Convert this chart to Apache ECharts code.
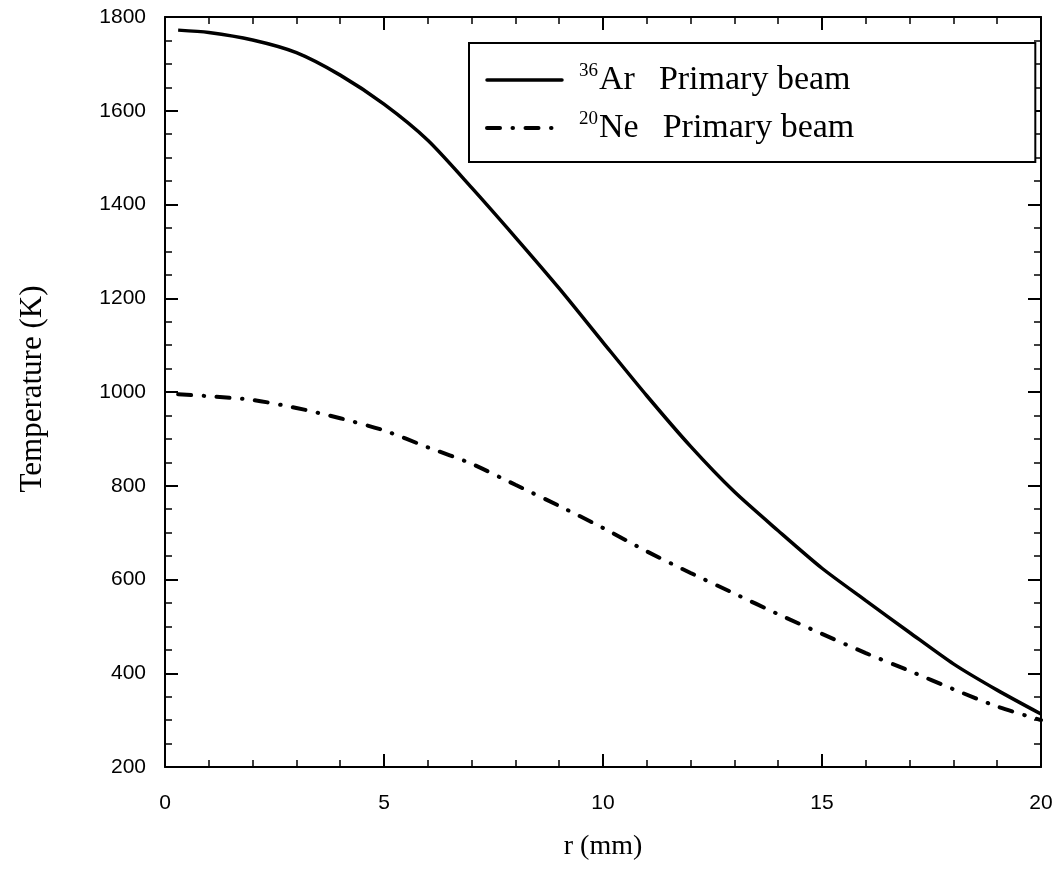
<!DOCTYPE html>
<html>
<head>
<meta charset="utf-8">
<script src="https://cdn.jsdelivr.net/npm/echarts@6/dist/echarts.min.js"></script>
<style>
html,body{margin:0;padding:0;background:#fff;}
#chart{width:1062px;height:871px;}
</style>
</head>
<body>
<div id="chart"></div>
<script>
// ---- data ----
const rValues = [0.3, 1, 2, 3, 4, 5, 6, 7, 8, 9, 10, 11, 12, 13, 14, 15, 16, 17, 18, 19, 20];
const arTemps = [1772, 1767, 1751, 1724, 1676, 1614, 1537, 1436, 1330, 1221, 1106, 992, 884, 787, 704, 624, 555, 487, 420, 364, 313];
const neTemps = [995, 991, 983, 966, 944, 918, 882, 847, 802, 757, 710, 660, 614, 570, 526, 484, 443, 405, 366, 329, 300];
const seriesNames = ['Ar', 'Ne'];
const isotopes = ['36', '20'];
const legendSuffix = 'Primary beam';
const xTicks = [0, 5, 10, 15, 20];
const yTicks = [200, 400, 600, 800, 1000, 1200, 1400, 1600, 1800];
const xTitle = 'r (mm)';
const yTitle = 'Temperature (K)';

const pairs = (xs, ys) => xs.map((x, i) => [x, ys[i]]);

const serif = '"Liberation Serif", "DejaVu Serif", serif';
const sans = '"Liberation Sans", "DejaVu Sans", sans-serif';
const black = '#000';

const baseAxis = {
  axisLine: { show: true, onZero: false, lineStyle: { color: black, width: 2 } },
  axisTick: { show: true, inside: true, length: 13, lineStyle: { color: black, width: 2 } },
  minorTick: { show: true, length: 7, lineStyle: { color: black, width: 1.5 } },
  splitLine: { show: false },
  minorSplitLine: { show: false }
};

const xCommon = Object.assign({}, baseAxis, {
  type: 'value', min: xTicks[0], max: xTicks[xTicks.length - 1], interval: 5
});
xCommon.minorTick = Object.assign({}, baseAxis.minorTick, { splitNumber: 5 });
const yCommon = Object.assign({}, baseAxis, {
  type: 'value', min: yTicks[0], max: yTicks[yTicks.length - 1], interval: 200
});
yCommon.minorTick = Object.assign({}, baseAxis.minorTick, { splitNumber: 4 });

const plain = v => String(v);

const chart = echarts.init(document.getElementById('chart'), null, { renderer: 'canvas' });
chart.setOption({
  animation: false,
  backgroundColor: '#fff',
  grid: { left: 165, right: 21, top: 17, bottom: 104, containLabel: false, outerBoundsMode: 'none' },
  xAxis: [
    Object.assign({}, xCommon, {
      position: 'bottom',
      axisLabel: { show: true, margin: 26, color: black, fontFamily: sans, fontSize: 21, formatter: plain },
      name: xTitle, nameLocation: 'middle', nameGap: 66,
      nameTextStyle: { color: black, fontFamily: serif, fontSize: 28 }
    }),
    Object.assign({}, xCommon, { position: 'top', axisLabel: { show: false } })
  ],
  yAxis: [
    Object.assign({}, yCommon, {
      position: 'left',
      axisLabel: { show: true, margin: 19, color: black, fontFamily: sans, fontSize: 21, formatter: plain },
      name: yTitle, nameLocation: 'middle', nameGap: 117, nameRotate: 90,
      nameTextStyle: { color: black, fontFamily: serif, fontSize: 31, padding: [0, 0, 0, 6] }
    }),
    Object.assign({}, yCommon, { position: 'right', axisLabel: { show: false } })
  ],
  legend: {
    show: true,
    orient: 'vertical',
    left: 469,
    top: 43,
    padding: [19, 181, 17, 16],
    itemGap: 13,
    itemWidth: 75,
    itemHeight: 2,
    borderColor: black,
    borderWidth: 2,
    borderRadius: 0,
    backgroundColor: '#fff',
    itemStyle: { color: 'rgba(0,0,0,0)', borderWidth: 0, opacity: 0 },
    lineStyle: { width: 'inherit', type: 'inherit', cap: 'round', opacity: 1 },
    data: seriesNames,
    formatter: name => {
      const i = seriesNames.indexOf(name);
      return '{sup|' + isotopes[i] + '}{el|' + name + '}{main|' + legendSuffix + '}';
    },
    textStyle: {
      color: black,
      fontFamily: serif,
      rich: {
        sup: { fontSize: 19, fontFamily: serif, color: black, verticalAlign: 'top', lineHeight: 22, padding: [0, 1, 0, 12] },
        el: { fontSize: 34, fontFamily: serif, color: black, lineHeight: 36, padding: [0, 24, 0, 0] },
        main: { fontSize: 34, fontFamily: serif, color: black, lineHeight: 36 }
      }
    }
  },
  series: [
    {
      name: seriesNames[0],
      type: 'line',
      xAxisIndex: 0, yAxisIndex: 0,
      data: pairs(rValues, arTemps),
      smooth: 0.25,
      symbol: 'none',
      showSymbol: false,
      lineStyle: { color: black, width: 3.5 },
      itemStyle: { color: black }
    },
    {
      name: seriesNames[1],
      type: 'line',
      xAxisIndex: 0, yAxisIndex: 0,
      data: pairs(rValues, neTemps),
      smooth: 0.25,
      symbol: 'none',
      showSymbol: false,
      lineStyle: { color: black, width: 4, type: [13, 12.5, 0.5, 12.5], cap: 'round' },
      itemStyle: { color: black }
    }
  ]
});
</script>
</body>
</html>
